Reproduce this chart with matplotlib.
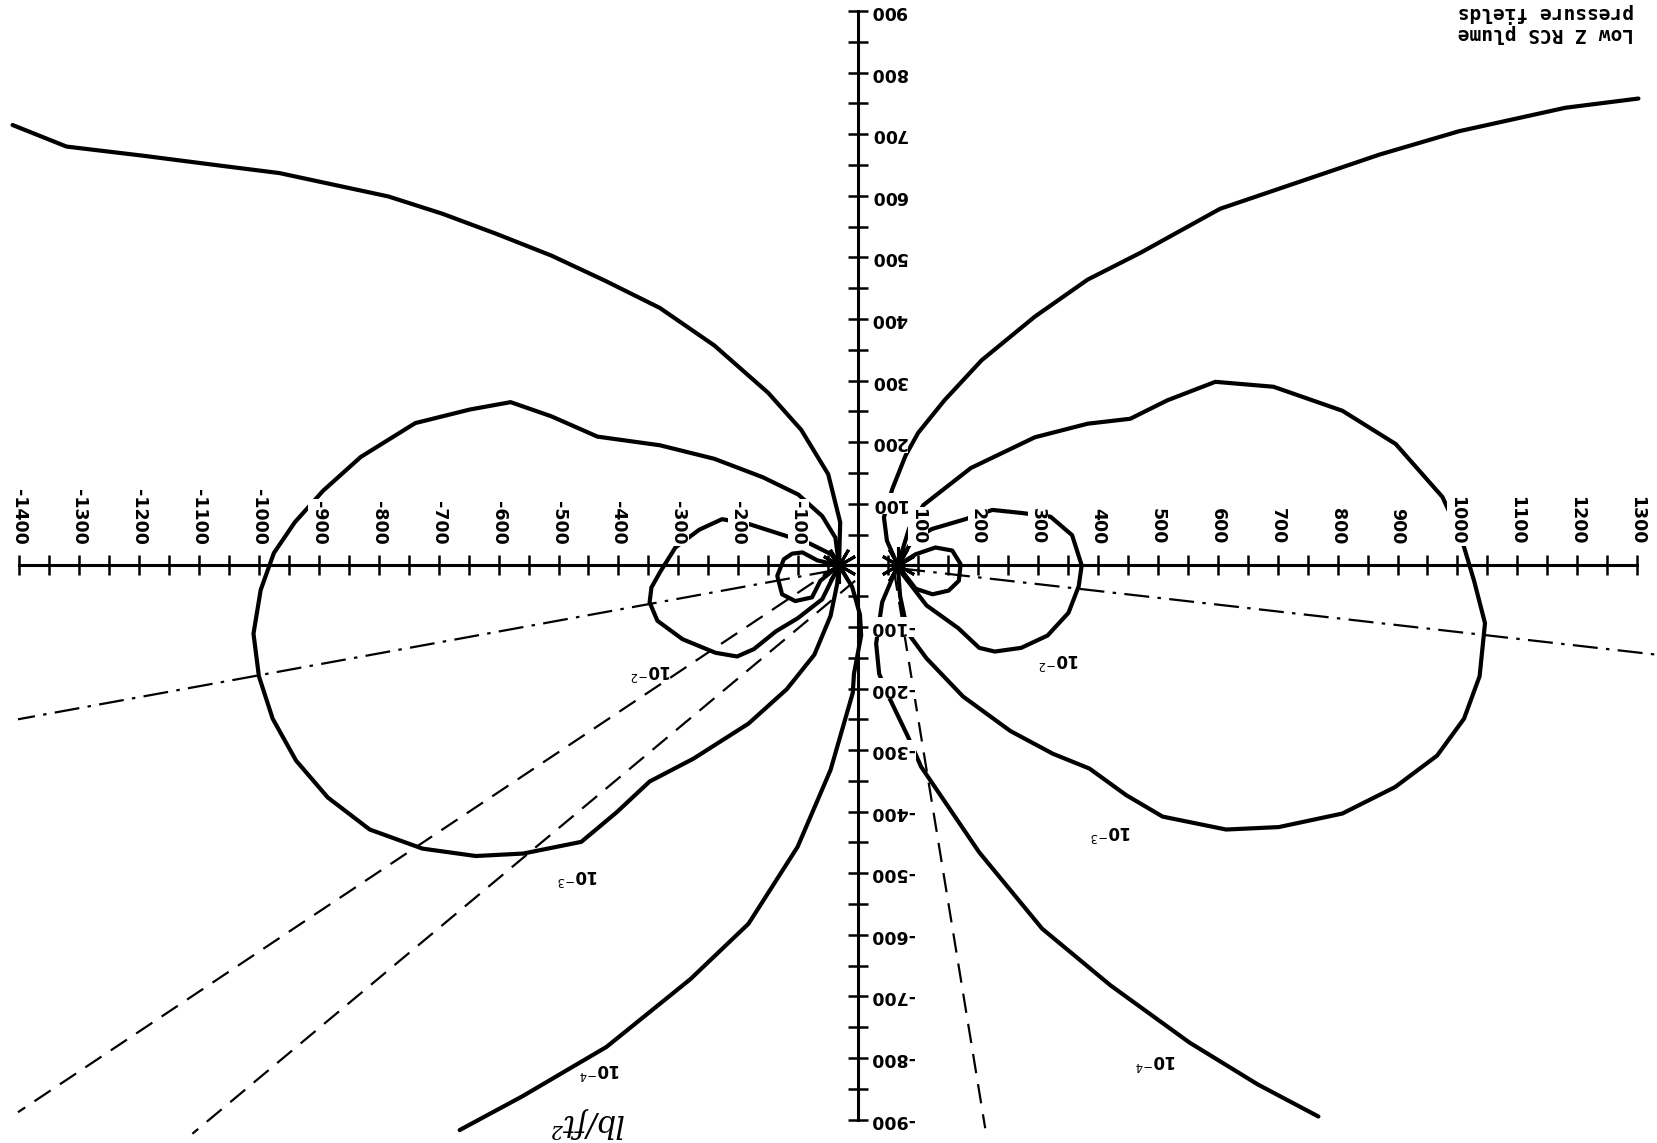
import matplotlib
matplotlib.use('agg')
import matplotlib.pyplot as plt

plt.rcParams['lines.scale_dashes'] = False

# ---- data (x, y in plot units) ----
src_x = [-32, 66]
src_y = [0, 0]

c4_ul_x = [-1411, -1321, -1192, -1056, -966, -875, -784, -694, -603, -512, -422, -331, -240, -150, -95, -50, -30, -32]
c4_ul_y = [715, 680, 665, 648, 637, 618, 599, 571, 538, 503, 462, 418, 357, 280, 220, 148, 70, 0]

c3_l_x = [-32, -38, -60, -100, -159, -240, -331, -435, -512, -580, -648, -739, -830, -893, -940, -975, -997,
          -1009, -1000, -977, -938, -885, -815, -727, -638, -559, -462, -403, -348, -275, -183, -119, -73, -46, -35, -32]
c3_l_y = [0, 45, 80, 115, 143, 173, 195, 209, 242, 265, 253, 231, 176, 121, 70, 20, -40,
          -111, -180, -249, -317, -377, -429, -460, -472, -468, -449, -401, -351, -314, -257, -201, -145, -82, -30, 0]

c2_l_x = [-32, -45, -80, -121, -182, -227, -265, -305, -330, -345, -348, -335, -293, -238, -202, -174, -137, -101, -60, -32]
c2_l_y = [0, 18, 35, 48, 67, 75, 58, 29, -10, -36, -60, -90, -120, -142, -148, -136, -107, -86, -55, 0]

c1_l_x = [-32, -68, -93, -110, -124, -135, -127, -105, -77, -63, -32]
c1_l_y = [0, 8, 21, 19, 10, -17, -47, -58, -52, -25, 0]

c4_ll_x = [-32, -10, 3, 5, -7, -9, -46, -101, -183, -280, -420, -560, -665]
c4_ll_y = [0, -35, -80, -114, -176, -207, -332, -457, -582, -672, -782, -862, -917]

c4_ur_x = [66, 48, 43, 57, 79, 100, 144, 206, 295, 383, 472, 604, 737, 870, 1003, 1180, 1302]
c4_ur_y = [0, 40, 78, 124, 178, 215, 268, 333, 404, 464, 508, 579, 623, 667, 705, 743, 758]

c3_r_x = [66, 85, 109, 188, 295, 383, 454, 516, 596, 693, 808, 897, 975, 1007, 1028, 1046, 1037, 1011, 966, 896,
          808, 702, 614, 508, 447, 386, 325, 254, 175, 114, 83, 70, 66]
c3_r_y = [0, 60, 98, 158, 208, 230, 238, 268, 298, 290, 251, 197, 111, 43, -26, -94, -180, -249, -309, -360,
          -403, -425, -429, -408, -373, -330, -306, -269, -213, -151, -110, -50, 0]

c2_r_x = [66, 90, 123, 179, 224, 273, 321, 357, 373, 368, 351, 316, 272, 228, 202, 167, 114, 70, 66]
c2_r_y = [0, 40, 59, 75, 90, 85, 79, 49, 0, -34, -77, -114, -134, -140, -134, -102, -65, -9, 0]

c1_r_x = [66, 96, 129, 157, 171, 168, 151, 124, 96, 66]
c1_r_y = [0, 18, 29, 24, 2, -25, -41, -47, -38, 0]

c4_lr_x = [66, 40, 30, 35, 48, 83, 105, 202, 307, 421, 553, 667, 768]
c4_lr_y = [0, -60, -127, -176, -207, -278, -327, -466, -590, -682, -775, -843, -895]

dash_lines = [([-32, -1402], [0, -888]),
              ([-5, -1111], [-25, -923]),
              ([60, 212], [-10, -914])]
dashdot_lines = [([-40, -1402], [-8, -250]),
                 ([70, 1332], [-5, -145])]

contour_labels = [r'10$^{-2}$', r'10$^{-2}$', r'10$^{-3}$', r'10$^{-3}$', r'10$^{-4}$', r'10$^{-4}$']
contour_label_x = [-345, 335, -467, 423, -430, 497]
contour_label_y = [-170, -152, -503, -432, -818, -803]

xtick_major = list(range(-1400, 1301, 100))
xtick_minor = list(range(-1350, 1300, 100))
xtick_labels = [str(v) for v in xtick_major if v != 0]
ytick_major = list(range(-900, 901, 100))
ytick_minor = list(range(-850, 900, 100))
ytick_labels = [str(v) for v in ytick_major if v != 0]

title = 'Low Z RCS plume\npressure fields'
note = 'lb/ft\u00b2'

# ---- figure ----
fig = plt.figure(figsize=(16.57, 11.43), dpi=100)
ax = fig.add_axes([0, 0, 1, 1])
ax.set_xlim(-1432, 1333)
ax.set_ylim(-938, 918)

for s in ['top', 'right']:
    ax.spines[s].set_visible(False)
ax.spines['left'].set_position(('data', 0))
ax.spines['bottom'].set_position(('data', 0))
ax.spines['left'].set_bounds(-900, 900)
ax.spines['bottom'].set_bounds(-1400, 1300)
ax.spines['left'].set_linewidth(2.2)
ax.spines['bottom'].set_linewidth(2.2)

ax.set_xticks(xtick_major)
ax.set_xticks(xtick_minor, minor=True)
ax.set_yticks(ytick_major)
ax.set_yticks(ytick_minor, minor=True)
ax.tick_params(which='both', direction='inout', length=14, width=1.8,
               labelbottom=False, labelleft=False)

lw = 3.0
for xs, ys in [(c4_ul_x, c4_ul_y), (c3_l_x, c3_l_y), (c2_l_x, c2_l_y), (c1_l_x, c1_l_y),
               (c4_ll_x, c4_ll_y), (c4_ur_x, c4_ur_y), (c3_r_x, c3_r_y), (c2_r_x, c2_r_y),
               (c1_r_x, c1_r_y), (c4_lr_x, c4_lr_y)]:
    ax.plot(xs, ys, color='black', lw=lw, solid_capstyle='round', solid_joinstyle='round', zorder=2)

for xs, ys in dash_lines:
    ax.plot(xs, ys, color='black', lw=1.6, ls=(0, (14, 8)), zorder=2)
for xs, ys in dashdot_lines:
    ax.plot(xs, ys, color='black', lw=1.6, ls=(0, (18, 6, 2.5, 6)), zorder=2)

ax.plot(src_x, src_y, ls='none', marker=(12, 2, 0), ms=26, mew=2.2, color='black', zorder=3)

box = dict(facecolor='white', edgecolor='none', pad=1.0)
for v, lbl in zip([v for v in xtick_major if v != 0], xtick_labels):
    ax.annotate(lbl, xy=(v, 0), xytext=(0, 15), textcoords='offset points',
                rotation=270, ha='center', va='bottom', fontsize=12.5, fontweight='bold',
                bbox=box, zorder=4)
for v, lbl in zip([v for v in ytick_major if v != 0], ytick_labels):
    ax.annotate(lbl, xy=(0, v), xytext=(9, 0), textcoords='offset points',
                rotation=180, ha='left', va='center', fontsize=12.5, fontweight='bold',
                bbox=box, zorder=4)

for lbl, x, y in zip(contour_labels, contour_label_x, contour_label_y):
    ax.text(x, y, lbl, rotation=180, ha='center', va='center', fontsize=12, fontweight='bold')

fig.text(0.986, 0.962, title, rotation=180, ha='right', va='bottom', fontsize=14,
         fontweight='bold', family='DejaVu Sans Mono', multialignment='left', linespacing=1.1)
ax.text(-455, -905, note, rotation=180, ha='center', va='center', fontsize=22,
        style='italic', family='DejaVu Serif')

plt.savefig('out.png', format='png', dpi=100)
plt.close()
